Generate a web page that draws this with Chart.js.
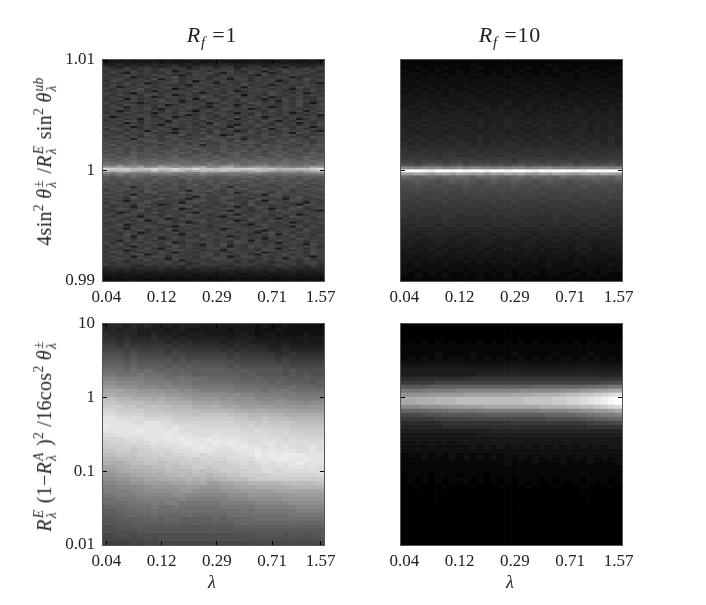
<!DOCTYPE html>
<html><head><meta charset="utf-8">
<script src="https://cdn.jsdelivr.net/npm/chart.js@4"></script>
<style>
html,body{margin:0;padding:0;background:#fff;width:706px;height:605px;overflow:hidden}
canvas{position:absolute;filter:blur(.4px)}
.t{position:absolute;font-family:"Liberation Serif",serif;color:#222;white-space:nowrap;line-height:1;filter:blur(.25px)}
.i{font-style:italic}
.ss{display:inline-block;vertical-align:middle;font-size:.68em;line-height:.95;text-align:left;margin:0 1px}
.ss span{display:block}
sup,sub{font-size:.68em;line-height:0}
.rot{transform:translate(-50%,-50%) rotate(-90deg)}
.ctr{transform:translate(-50%,-50%)}
</style></head><body>
<canvas id="c1"></canvas><canvas id="c2"></canvas><canvas id="c3"></canvas><canvas id="c4"></canvas>
<div class="t ctr" style="left:212px;top:35px;font-size:22px;letter-spacing:.8px"><span class="i">R</span><sub class="i">f</sub> =1</div>
<div class="t ctr" style="left:510px;top:35px;font-size:22px;letter-spacing:.8px"><span class="i">R</span><sub class="i">f</sub> =10</div>
<div class="t ctr i" style="left:212px;top:582px;font-size:18px">λ</div>
<div class="t ctr i" style="left:510px;top:582px;font-size:18px">λ</div>
<div class="t rot" style="left:46px;top:161px;font-size:20px;letter-spacing:.3px">4sin<sup>2</sup> <span class="i">θ</span><span class="ss"><span>±</span><span class="i">λ</span></span> /<span class="i">R</span><span class="ss"><span class="i">E</span><span class="i">λ</span></span> sin<sup>2</sup> <span class="i">θ</span><span class="ss"><span class="i">ub</span><span class="i">λ</span></span></div>
<div class="t rot" style="left:46px;top:436px;font-size:20px;letter-spacing:.3px"><span class="i">R</span><span class="ss"><span class="i">E</span><span class="i">λ</span></span> (1−<span class="i">R</span><span class="ss"><span class="i">A</span><span class="i">λ</span></span> )<sup>2</sup> /16cos<sup>2</sup> <span class="i">θ</span><span class="ss"><span>±</span><span class="i">λ</span></span></div>
<script>
const lambdaLabels=["0.04","","","","","","","","0.12","","","","","","","","0.29","","","","","","","","0.71","","","","","","","1.57"];
const ratioTicks=[0.99,1,1.01];
const logTicks=[0.01,0.1,1,10];
// shade level (base 36, 0-z) per cell, top row first, 32 bins per row
const topLeftRows=[
"33343334 34333433 43333343 33433343",
"44544545 54445445 45544454 45454445",
"65756567 66756576 57665765 66756567",
"87487896 58974889 68947896 78496879",
"a89a79a8 b98a78a9 8a97a98b 79a89b8a",
"8a98b7a8 9a48ab98 a9b87a94 a8b9a8a7",
"9b84a9a8 8b9a7a9c 84a98b9a 48a9ab89",
"a79ba88b a9848ba9 7ba9a84b 9a8ba79a",
"8a9a4898 bad8a9a7 9a8b98a9 8ab47a98",
"9ab89a8c 49a89ba8 a94ab8a9 b89a8c9a",
"7ba8a9b8 a9c8a39a 8ba9a7b9 a38a9b8a",
"a98c9a48 9ba8a9b9 4a98ba8a 9b8a9a94",
"8b9a8ba9 a8894a9b a8b9c8a9 48a98ba9",
"9a48a9b8 ab9a8ba9 8a9a4a98 b9a8ca98",
"a8ba9d8a 9a38a9a8 b9a8a9ba 8a94a8b9",
"89a9ba84 a8ba9c8a 98a48b9a ba89a9b8",
"b9a83a9b 8a9ab849 a8ba89a8 c9a8b48a",
"a8b9a8ca 9a48a9ba 8b9a3a98 ba8a9ab9",
"9a89b9a4 8ba9a8ca 98ab9a8b 48a9b89a",
"8ab4a89b a9a8b39a c8a9ba84 a9b8a98c",
"a98ab9a8 c9a49a8b a9a8b9a8 a4b9ca89",
"b8a9848a 9ba8a9a4 8ba98cb9 a8a9b83a",
"9a8cb9a8 a48ba9a8 b9a4a8ba 98a9c8ab",
"8ba4a9a8 b9a9cb84 a9a8ba9a 48b9a89a",
"a9b8a9c8 4a9ba89a 8cb9a48a a9ba8a9b",
"9a48ba9a 8b9a83ab 9a8a9ba8 c9a8b4a9",
"8a9ba8a4 9a8cb9a8 ba94a8b9 a9a48a9c",
"b9a89ca8 ba9a48a9 8ba9a8c9 a8b9a8a4",
"a38ba9a8 9b48a9ba 8a9c8ba4 9a8a9ba8",
"9ab8a4ba 8a9ba8c9 a8b4a9a8 ba9a48b9",
"8a9cb8a9 a4ba9a8b 9a8a9b8c a4a8ba9a",
"a9b4a8ba 98a9b8a4 ca98ab9a 8b9a4a8b",
"9a8ab9a8 4cb9a8a9 ba84a9ca 8b9a8a9b",
"ba9a48b9 a8a9ba8b 9a4ca9a8 b9a8ba49",
"8cb9a8a9 ba48a9b9 a8ba9a8c 4ab9a8a9",
"a9a8ba4c 9a8ba9a8 c9a48ba9 a8ba9c84",
"ba8c9ab9 a84ba9c8 ba9a9c8b a9a4ca9b",
"9ab9a8cb 9abc8a9b a48cb9ab 9acb8a9a",
"abc9b8ab 9cb8ab9d a9cb8a9b cab9a8cb",
"b9ab5cba 9acb9adb cb9a5bac 9bacb9ab",
"acb9bacd 9babcb9a bc9dacb9 acbdab9c",
"cabcb9ab dbac9bca 9cbacdb9 abcacb9b",
"bdacbcab 9cbdac6b acbcab9d bcab9cbd",
"cacbdabc bacbdcab bdacbdac bdcabcbc",
"bcdacbdc abdcbecb adcbcacd bcadcbdc",
"dbcbdacb dcebcadb cdbcebda cdbcdacb",
"ccdbecdc bdcedbcd acdebcdb ecdbcdec",
"debcdcde cdecbded cbdecdcb decdbcde",
"dcedfcdc edfcdedc fcdedcfd cedcdfec",
"fedfedef deffedfe dfeefdef edfedfde",
"feefgfef gefgfefe gffefgef fegfefgf",
"hgfghfgh fhgghfgh gfhgfhgg fghfggfh",
"ihkhjigh jikhhigj hikjghij ghiggihj",
"onqnmplm qolnmoqk lpqmlnon lmkjklpn",
"xwvwtuvx vvxuvyuv tuvvwxvt vsttvuwy",
"uttvsrqv qsvtqsut svstqrut qpqpoqsu",
"ljmlkjkl lmjkkjmk ljkjkmlj jijkiklm",
"hgifhgfh ghifhgih fghigfhg fghfghgh",
"edfegfed fedgeffe defefgde fdefdefe",
"ecdcedcd ecdcfdec cdecdcec dcedcedc",
"dbcdbdce bdcbdcbe cdbcedbc edcbdcbd",
"cdbecbdc dbcadbcd becdbcbd cbdcebdc",
"bcadcbda cbdcbeac dbcabdcb adbcbdac",
"dbca6bcd abc9dbca cb6dacbc bacdb9ca",
"acbdabc9 bdcabcba dacbd9ab cbdabcbd",
"9bcab9db caba5cbd a9cbacdb abc9bacb",
"cba9bacd 9abdcba9 bac5abcb 9dbacbab",
"a9ca4b9a cbab9cda b9abc9a4 cbab9cba",
"bca9dab8 a9bca4ba 9cda9b9a bc8ad9bc",
"9ab8ca9b dab94ab9 acb9a8db 9a4bca9a",
"ab94a9cb 9aa8bcd9 ab8a9ca4 b9acb8a9",
"8cb9abd8 a9a4bc9a 8bda9b9a cb8a94ba",
"a9ab8c9a 48bca9ba 9acb8d9a 9ab84cb9",
"b8a94bc9 a9abd8a9 b8a4a9cb 9a8bd9ab",
"9acb9a8b a9c48ba9 abc9a8ba 4a9cb8ab",
"a8b9ad9a 8ba9ab9c a94ba8ab 9dab9a84",
"9a48ba9c a9ab84ba 9cba8a9b a8ca9bab",
"ba9cb8a9 8ba9dba8 a9a4b9ca 8b9a48ba",
"a8ba94ab 9ca8ba9a 84bca9ba 9a8dba9c",
"9ca8ba9b a48cb9a9 ba8a9cb8 a4a9ba8a",
"ba9a8c49 ba8a9bc8 a9a48ba9 cb9a8ba9",
"8a9ba9a8 cb9a48ba 9ac9b8a9 a8b49a9c",
"a9c48ba9 8a9cb9a8 ba9a84bc 9a8ba9a8",
"9ba8a9cb a84a9ba8 9cba9a8b a9a4c8ba",
"b9a4ba9a 8ca9b8a9 a48ba9cb 8a9a8ba9",
"a8ba9c8a 9b4a8ba9 a8c9ba84 a9ba8c9a",
"9a8ba48b a9c8ba9a 9ba8a94b c9a8ba98",
"ba9ca8a9 ba84a9cb 8a9ba8a9 c4ba9a8b",
"8a9b4ca9 8ab9a8c9 ba48a9a8 ba9c8a9a",
"a9ba8a9c 48ba9a8b 9ac8ba94 a9a8cb9a",
"9a4c9ba8 a9a8cb9a 8a9ba4b9 8ca9a8ba",
"b8a9a8ba 9c48a9ba 9a8cb9a8 a49ba8a9",
"a9c8ba9a 8ba9a84b 9c8a9ab9 a8ba94ca",
"8ba94a9b a8c9ba8a 9b4a8ca9 ba8a9ba8",
"9a8ba9c8 4ba9a89a c8ba9a8b a49ca8b9",
"a9a48ba9 a8cb9a8a 94ba9a8c b9a8a9ba",
"8cb9a8a9 ba49a8ba 9a8ba9c4 8a9ba8c9",
"a8a9bc48 a9ba8a9c 8ba9a84b a9c8a9ba",
"9b8a4a9c b8a9a8ba 9a48cb9a 8a9ba84a",
"a9ca8ba9 a4ba98a9 cb8a9a8b 9a4a9c8a",
"8a97a8b9 a8a49a98 a9b8a79a 8ba97a98",
"98a79a8a 9b8a78a9 8a97a8a9 78a98ab9",
"a89a78a9 8a9a78a9 a88a9a78 9a8a79a8",
"78987687 97868978 78689787 69878697",
"67676867 76768676 67867676 76867676",
"56565565 65556566 56556565 65565556",
"45454544 54544545 44545454 54454545",
"44344434 43444344 34443444 34443443",
"33433343 34334333 43334333 43343334",
"23232323 32323232 23232332 32323232",
"32223222 23222322 22232223 22232322"];
const topRightRows=[
"11111111 11111111 11111111 11111111",
"11111111 11211111 11111211 11111111",
"11211121 11121112 11211121 11211112",
"21121211 21211212 12112121 12112121",
"12212121 21221212 21212112 21221212",
"22122212 22122221 22122212 21222122",
"22222222 22222222 22222222 22222222",
"22322222 22232222 32222322 22232222",
"22232232 23222322 22322232 23222322",
"32323223 22323232 23232323 22323232",
"23232323 33232323 32323232 33232323",
"33233323 33323332 33233332 33323332",
"33333333 33333333 33333333 33333333",
"33343333 33433334 33343333 43333433",
"33433343 33343334 33433343 33343334",
"34343334 34334343 33434334 34343343",
"43434343 43344343 43434343 34434343",
"44344434 44434443 44344434 44434444",
"44444444 44444444 44444444 44444444",
"44454444 45444445 44445444 54444544",
"44544454 44454445 44544544 44544454",
"45454545 54454545 45454554 54545454",
"54545454 55454545 54545545 45545455",
"55455545 55545554 55455554 55545555",
"55555555 55555555 55555555 55555555",
"55655556 55565555 65555655 56555565",
"56565656 65565656 56565665 65656565",
"65656565 66565656 65656566 56566565",
"66666666 66666666 66666666 66666666",
"76676667 66766676 66767667 66766767",
"77777677 77767777 67777776 77677777",
"77877778 77787777 87777877 78777787",
"88888788 88878888 78888887 88878888",
"99899989 98999899 89998999 98999899",
"bbabcbab cabbbaba bcabbbab cabbabca",
"iihjijhi jhjiihih jihiijhi hhiijihi",
"yzzyxzzy zyyzxzzy zzyxzyzz yyxzzyzz",
"mlnmkmnl nmlmkmln mnlkmlnm lkmmlnml",
"fedefdee fedfefed efdfeedf edefeedf",
"ccdccbcd cdcbcdcc dccbcdcc bcccdccd",
"bbcbbabc bcbabcbb cbbabcbb abbbcbbb",
"aabaabaa abaabaaa baabaaba aabaabaa",
"aaaaaaaa 9aaaaaaa aaaa9aaa aaa9aaaa",
"99a999a9 9a9a99a9 99a9a999 a99a99a9",
"99999999 99999999 99999999 99999999",
"99899989 98999899 89998999 98999899",
"88988898 89888988 98889888 89888988",
"88888888 88888888 88888888 88888888",
"87888788 78887888 78887888 78887888",
"78777877 87778777 87778777 87777877",
"77777777 77777777 77777777 77777777",
"76767677 67676767 76767676 67677676",
"66766676 66666766 67666676 66766766",
"66666666 66666666 66666666 66666666",
"65666566 56665666 56665665 66566566",
"56555655 65556555 65556556 55655655",
"55555555 55555555 55555555 55555555",
"55455555 54555455 55545555 54555455",
"54545454 45454545 54454545 45454554",
"45444544 54445444 44544454 44544445",
"44444444 44444444 44444444 44444444",
"44344434 43444344 34443444 34443444",
"43434343 34343434 43434334 34343434",
"34333433 43334333 33433343 33433343",
"33333333 33333333 33333333 33333333",
"33233323 32333233 23332333 23233323",
"32323232 23232323 23232332 23232322",
"22322232 22232222 32222322 23222232",
"22222222 22222222 22222222 22222222",
"22122212 21222122 12221222 21221222",
"21212121 12121212 12121221 12121211",
"11211121 11121112 11211111 21112111",
"11111111 11111111 11111111 11111111"];
const bottomLeftRows=[
"55545454 44344433 33333323 22322222",
"55455444 43443333 33233322 23222222",
"65555445 44434443 33334323 32222322",
"66565556 55454444 44344433 33333333",
"77676666 65656555 54555444 43433433",
"88787777 77676666 66565655 44544444",
"99989888 87877777 76767666 55655555",
"aaa9a999 98998888 88787777 76676666",
"bbbabaaa aa9a9999 99898888 87877777",
"cccbcbbb bbababaa aaa99999 98988888",
"dddcdccc cbcbcbbb bbabaaaa aa999999",
"eeededed cdcdcccc cccbcbbb bbabaaaa",
"ffeeefee eddddccc ccccbcbb bbababaa",
"hhggggff feefeeed ddddccdc cccbbcbb",
"iihhhhgg ggfffeee eeeddddd cdccccbc",
"jjiiihhh ghgggfff fffeeeee eddedddc",
"lllkkjjj jiihihgg gggffffe fffeeeee",
"mmlllkkk kjjjiiii iihihhgg ggfgffff",
"oonnmmml mllkkjjj jijiiihh hhhggggg",
"ppoooonn nmmmmllk lkkjjjji ijiiihii",
"qqqppoop oonnnmmm mlllkkkk kjjjjjjj",
"rrqqqqpp pooooonn nnnmmlmm llllkkkk",
"ssrrrrqq qqpppopp ppooonnn nnmmmmmm",
"ttssssrr rrqqqqqq qqqppoop ooonnnnn",
"ttttsstt ssrrrrrr rrrqqqpq ppppoooo",
"uttttttt tstsssrr rrrrqrqq qqqppppp",
"tttttutt tttsssss ssssrrsr rrrqqqqq",
"sstttttt tutttsss tsssssrs rrrrrqqq",
"rrrssstt tttutttu ttttssss ssrsrrrr",
"qrrrsrst stttuttt ututtsst tsssssss",
"qqqrqrrs ssstttut ttttutts tstsssts",
"ppqqpqqr rrsssttt ssstttut ttttssts",
"oopppqqq rqrrssrs ssssttut utuuuttt",
"nnoooppq pqqqrqrr rrsssstt tuuttutt",
"mmmnoopp oppqqqqr qqrrsrst stttuttt",
"llmmnnno opoppqqp qqqqrrrs sssttsts",
"kklmmmnn noooopop pqqqqrrs srssssss",
"jjkklmmm mnnonoon ooppqqqq rrrrrrrs",
"iijjkkll mmmmnmnm nnooopqq qqqqqqqq",
"hhiijjkk kkllmlmk kllmmnnn nnooooop",
"gghhhiij jjjkkkjj jkklllmm mmmnnnnn",
"gggghhii iiijjiii ijjjkkkk klllllll",
"ffggghhh hhiihhhh hhiiijjj jjjkkkkk",
"eefffggg ggghgggg gghhhiii iijjjjjj",
"eeeefffg fggfffff fggggghh hhhiiiii",
"dddeeeef eefeeeee efffffgg gggghhhh",
"ccdddeee eeeeeeee eeeefeff ffffgggg",
"cccdddde ddddeddd ddeeeeee eeefffff",
"bbcccccd cddccccc dcddddee eeeeeeee",
"bbbbcccc cccccccc cccddddd dddddddd",
"aabbbbbb bbbbbbbb bbbccccc cccccccc",
"aaaaabbb bbbbbbbb bbbbbbbb bbbbbbbb",
"99aa9aaa aaaaaaaa aaaaaabb bbabbabb",
"999999a9 aaaaaaaa aaaaaaaa aaaaaaaa",
"88889899 99999999 99999999 99999999"];
const bottomRightRows=[
"00000000 00000000 00000000 00000000",
"00000000 00000000 00000000 00000000",
"00000000 00000000 00000000 00000000",
"00000000 00000000 00000000 00000000",
"01010101 01010101 01010101 01010101",
"11111111 11111111 11111111 11111111",
"11111111 11111111 11111111 11111111",
"11111211 11211111 21111121 11121111",
"12121212 21212121 12121212 21212121",
"22222222 22222222 22222222 22222222",
"33333333 33333333 33333333 33333333",
"44444444 44444444 44444444 44444444",
"44444444 44455555 55555555 55555555",
"66666666 67777777 77777777 77777777",
"88888999 99999999 99999999 99999aaa",
"ccccdddd dddddddd dddeeeee eeefffgg",
"ggghhhhh iiiiiiii ijjjjjjj kkllmmnn",
"kkkkllll lmmmmmmm nnnoooop qqrrstuv",
"nnoooppp qqqqqqqq qqrrrrss ttuvwxyz",
"nnoooppp qqqqqqqq qqrrrrss ttuvwxyz",
"jjjkkkll lmmmnnnn nnnnoooo ppqqrstu",
"eeeefffg ggghhhhh hhhhiiii jjkkllmn",
"aaabbbcc ccccdddd dddddeee effgghhi",
"88888999 99aaaaaa aaaaabbb bbccddee",
"66666677 77777777 88888888 888999aa",
"55555566 66666666 66666666 66677777",
"44444444 44444555 55555555 55555555",
"33333333 33344444 44444444 44444444",
"33333333 33333333 33333333 33333333",
"22323232 33333333 33333333 33333333",
"22222222 22323232 32323232 32323233",
"22222222 22222222 22222222 22222222",
"12121212 12121212 22222222 22222222",
"11121112 12121212 12121212 12121212",
"11111111 11111112 11121112 11121112",
"11111111 11111111 11111111 11111111",
"11111111 11111111 11111111 11111111",
"01110111 01110111 11111111 11111111",
"01010101 11010101 01110101 11011101",
"01010101 01010101 01010101 01010101",
"00100010 00100010 00100010 00100010",
"00000000 00000000 00000000 00000000",
"00000000 00000000 00000000 00000000",
"00000000 00000000 00000000 00000000",
"00000000 00000000 00000000 00000000",
"00000000 00000000 00000000 00000000",
"00000000 00000000 00000000 00000000",
"00000000 00000000 00000000 00000000",
"00000000 00000000 00000000 00000000",
"00000000 00000000 00000000 00000000",
"00000000 00000000 00000000 00000000",
"00000000 00000000 00000000 00000000",
"00000000 00000000 00000000 00000000",
"00000000 00000000 00000000 00000000",
"00000000 00000000 00000000 00000000"];

const fontTick={family:'"Liberation Serif",serif',size:17};
const inkColor='#222';
const frame={id:'frame',afterDraw(ch){const a=ch.chartArea,c=ch.ctx;c.save();c.strokeStyle='#555';c.lineWidth=1;
  c.strokeRect(a.left-.5,a.top-.5,a.width+1,a.height+1);c.restore();}};
function yScale(log,ticks,show,pos){
  return {type:log?'logarithmic':'linear',position:pos,min:ticks[0],max:ticks[ticks.length-1],
    grid:{drawOnChartArea:false,drawTicks:true,tickLength:-4,color:'#000',z:1},border:{display:false},
    afterBuildTicks(s){s.ticks=ticks.map(v=>({value:v}));},
    afterFit(s){s.width=(pos==='left')?55:20;s.paddingTop=0;s.paddingBottom=0;},
    ticks:{display:show,padding:12,font:fontTick,color:inkColor,autoSkip:false,callback:v=>String(v)}};
}
function xScale(pos,show){
  return {type:'category',position:pos,labels:lambdaLabels,offset:true,
    grid:{drawOnChartArea:false,drawTicks:true,tickLength:-4,offset:false,color:'#000',z:1},border:{display:false},
    afterBuildTicks(s){s.ticks=s.ticks.filter(t=>lambdaLabels[t.value]!=='');},
    afterFit(s){s.height=(pos==='bottom')?35:0;s.paddingLeft=0;s.paddingRight=0;},
    ticks:{display:show,padding:10,font:fontTick,color:inkColor,autoSkip:false,maxRotation:0}};
}
function panel(id,rows,left,top,log,ticks,showY,gain){
  const cv=document.getElementById(id);
  cv.width=296;cv.height=266;cv.style.left=(left-55)+'px';cv.style.top=(top-10)+'px';
  const n=rows.length,lo=ticks[0],hi=ticks[ticks.length-1];
  const edge=log?r=>hi*Math.pow(lo/hi,r/n):r=>hi+(lo-hi)*r/n;
  const datasets=rows.map((s,r)=>{
    const cells=[...s.replace(/ /g,'')].map(ch=>parseInt(ch,36));
    return {data:cells.map(()=>[edge(r+1),edge(r)]),
      backgroundColor:cells.map(v=>{const g=Math.min(255,Math.round(gain*v*255/35));return `rgb(${g},${g},${g})`;}),
      borderWidth:0,barPercentage:1,categoryPercentage:1,grouped:false};
  });
  new Chart(cv,{type:'bar',data:{labels:lambdaLabels,datasets},plugins:[frame],
    options:{responsive:false,animation:false,devicePixelRatio:1,
      layout:{autoPadding:false,padding:{top:10,left:0,right:0,bottom:0}},
      plugins:{legend:{display:false},tooltip:{enabled:false},title:{display:false}},
      scales:{x:xScale('bottom',true),xTop:xScale('top',false),
              y:yScale(log,ticks,showY,'left'),yRight:yScale(log,ticks,false,'right')}}});
}
panel('c1',topLeftRows,103,60,false,ratioTicks,true,0.88);
panel('c2',topRightRows,401,60,false,ratioTicks,false,1);
panel('c3',bottomLeftRows,103,324,true,logTicks,true,1.08);
panel('c4',bottomRightRows,401,324,true,logTicks,false,1);
</script></body></html>
